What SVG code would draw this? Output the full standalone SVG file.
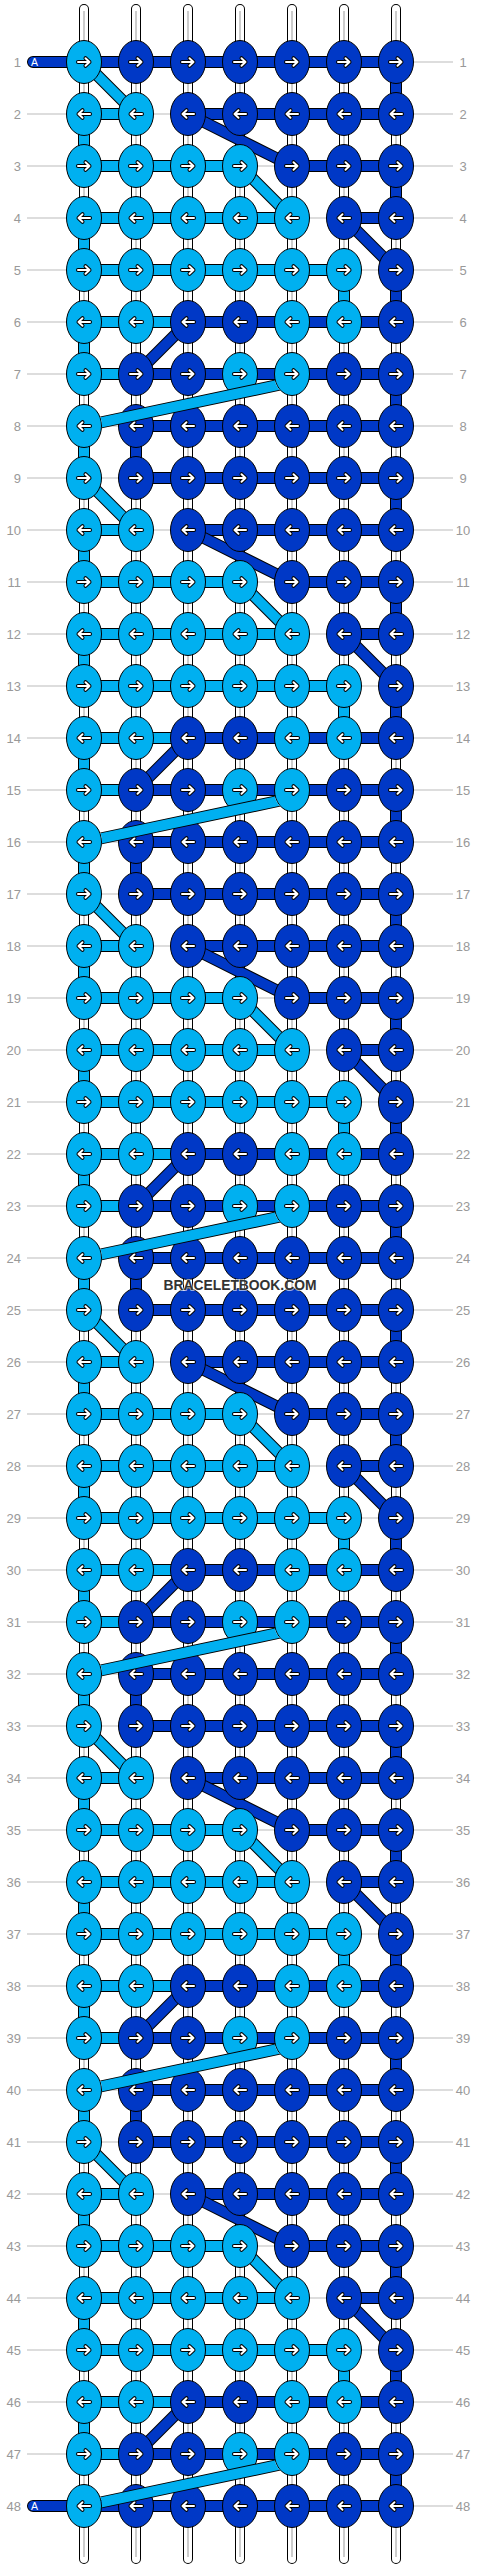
<svg xmlns="http://www.w3.org/2000/svg" xmlns:xlink="http://www.w3.org/1999/xlink" width="480" height="2568" viewBox="0 0 480 2568">
<style>
.rl{fill:none;stroke:#bbb;stroke-width:1}
.lb{font-family:"Liberation Sans",Arial,sans-serif;font-size:13px;fill:#999}
.le{text-anchor:end}
.ri{text-anchor:middle}
.tb{fill:none;stroke:#000;stroke-width:10;stroke-linecap:round}
.tw{fill:none;stroke:#fff;stroke-width:8;stroke-linecap:round}
.tg{fill:none;stroke:#ccc;stroke-width:2}
.o{fill:none;stroke:#000;stroke-width:12}
.fl{fill:none;stroke:#00b0f0;stroke-width:10}
.fd{fill:none;stroke:#0038c6;stroke-width:10}
.rc{stroke-linecap:round}
.kl{fill:#00b0f0;stroke:#000;stroke-width:1}
.kd{fill:#0038c6;stroke:#000;stroke-width:1}
.ab{fill:none;stroke:#000;stroke-width:4;stroke-linecap:round;stroke-linejoin:round}
.aw{fill:none;stroke:#fff;stroke-width:2;stroke-linecap:round;stroke-linejoin:round}
.at{font-family:"Liberation Sans",Arial,sans-serif;font-size:10.5px;fill:#fff}
.wm{font-family:"Liberation Sans",Arial,sans-serif;font-size:15px;font-weight:bold;fill:#333;text-anchor:middle;stroke:#fff;stroke-width:2;stroke-opacity:0.6;paint-order:stroke}
</style>
<defs>
<path id="a" d="M-6 0H5.5M1.5-3.8L5.5 0L1.5 3.8"/>
<g id="ar"><use href="#a" class="ab"/><use href="#a" class="aw"/></g>
<g id="al"><use href="#ar" transform="scale(-1,1)"/></g>
<ellipse id="eL" class="kl" rx="17.5" ry="21.5"/>
<ellipse id="eD" class="kd" rx="17.5" ry="21.5"/>
<g id="LR"><use href="#eL"/><use href="#ar"/></g>
<g id="LL"><use href="#eL"/><use href="#al"/></g>
<g id="DR"><use href="#eD"/><use href="#ar"/></g>
<g id="DL"><use href="#eD"/><use href="#al"/></g>
<g id="cyc">
<path class="o" d="M84 52H136M84 104H240M84 156H292M84 208H344M84 260H188M84 312H136M84 52V104M84 156V208M344 208V260M84 260V312M136 0H396M188 52H396M292 104H396M344 156H396M188 260H396M136 312H396M136 364H396M396 0V52M396 104V156M396 208V260M396 312V364"/>
<path class="fl" d="M84 52H136M84 104H240M84 156H292M84 208H344M84 260H188M84 312H136M84 52V104M84 156V208M344 208V260M84 260V312"/>
<path class="fd" d="M136 0H396M188 52H396M292 104H396M344 156H396M188 260H396M136 312H396M136 364H396M396 0V52M396 104V156M396 208V260M396 312V364"/>
<path class="o" d="M84 0L136 52M240 104L292 156M188 52L292 104M344 156L396 208M188 260L136 312"/>
<path class="fl" d="M84 0L136 52M240 104L292 156"/>
<path class="fd" d="M188 52L292 104M344 156L396 208M188 260L136 312"/>
</g>
<mask id="m" maskUnits="userSpaceOnUse" x="0" y="0" width="480" height="2568">
<rect width="480" height="2568" fill="#fff"/>
<g fill="#000">
<ellipse cx="292" cy="374" rx="18" ry="22"/><ellipse cx="84" cy="426" rx="18" ry="22"/>
<ellipse cx="292" cy="790" rx="18" ry="22"/><ellipse cx="84" cy="842" rx="18" ry="22"/>
<ellipse cx="292" cy="1206" rx="18" ry="22"/><ellipse cx="84" cy="1258" rx="18" ry="22"/>
<ellipse cx="292" cy="1622" rx="18" ry="22"/><ellipse cx="84" cy="1674" rx="18" ry="22"/>
<ellipse cx="292" cy="2038" rx="18" ry="22"/><ellipse cx="84" cy="2090" rx="18" ry="22"/>
<ellipse cx="292" cy="2454" rx="18" ry="22"/><ellipse cx="84" cy="2506" rx="18" ry="22"/>
</g>
</mask>
</defs>
<rect width="480" height="2568" fill="#fff"/>
<g id="row-lines">
<path class="rl" d="M27 62H453M27 114H453M27 166H453M27 218H453M27 270H453M27 322H453M27 374H453M27 426H453M27 478H453M27 530H453M27 582H453M27 634H453M27 686H453M27 738H453M27 790H453M27 842H453M27 894H453M27 946H453M27 998H453M27 1050H453M27 1102H453M27 1154H453M27 1206H453M27 1258H453M27 1310H453M27 1362H453M27 1414H453M27 1466H453M27 1518H453M27 1570H453M27 1622H453M27 1674H453M27 1726H453M27 1778H453M27 1830H453M27 1882H453M27 1934H453M27 1986H453M27 2038H453M27 2090H453M27 2142H453M27 2194H453M27 2246H453M27 2298H453M27 2350H453M27 2402H453M27 2454H453M27 2506H453"/>
</g>
<g id="row-labels">
<text class="lb le"><tspan x="21" y="66.5">1</tspan><tspan x="21" y="118.5">2</tspan><tspan x="21" y="170.5">3</tspan><tspan x="21" y="222.5">4</tspan><tspan x="21" y="274.5">5</tspan><tspan x="21" y="326.5">6</tspan><tspan x="21" y="378.5">7</tspan><tspan x="21" y="430.5">8</tspan><tspan x="21" y="482.5">9</tspan><tspan x="21" y="534.5">10</tspan><tspan x="21" y="586.5">11</tspan><tspan x="21" y="638.5">12</tspan><tspan x="21" y="690.5">13</tspan><tspan x="21" y="742.5">14</tspan><tspan x="21" y="794.5">15</tspan><tspan x="21" y="846.5">16</tspan><tspan x="21" y="898.5">17</tspan><tspan x="21" y="950.5">18</tspan><tspan x="21" y="1002.5">19</tspan><tspan x="21" y="1054.5">20</tspan><tspan x="21" y="1106.5">21</tspan><tspan x="21" y="1158.5">22</tspan><tspan x="21" y="1210.5">23</tspan><tspan x="21" y="1262.5">24</tspan><tspan x="21" y="1314.5">25</tspan><tspan x="21" y="1366.5">26</tspan><tspan x="21" y="1418.5">27</tspan><tspan x="21" y="1470.5">28</tspan><tspan x="21" y="1522.5">29</tspan><tspan x="21" y="1574.5">30</tspan><tspan x="21" y="1626.5">31</tspan><tspan x="21" y="1678.5">32</tspan><tspan x="21" y="1730.5">33</tspan><tspan x="21" y="1782.5">34</tspan><tspan x="21" y="1834.5">35</tspan><tspan x="21" y="1886.5">36</tspan><tspan x="21" y="1938.5">37</tspan><tspan x="21" y="1990.5">38</tspan><tspan x="21" y="2042.5">39</tspan><tspan x="21" y="2094.5">40</tspan><tspan x="21" y="2146.5">41</tspan><tspan x="21" y="2198.5">42</tspan><tspan x="21" y="2250.5">43</tspan><tspan x="21" y="2302.5">44</tspan><tspan x="21" y="2354.5">45</tspan><tspan x="21" y="2406.5">46</tspan><tspan x="21" y="2458.5">47</tspan><tspan x="21" y="2510.5">48</tspan></text>
<text class="lb ri"><tspan x="463" y="66.5">1</tspan><tspan x="463" y="118.5">2</tspan><tspan x="463" y="170.5">3</tspan><tspan x="463" y="222.5">4</tspan><tspan x="463" y="274.5">5</tspan><tspan x="463" y="326.5">6</tspan><tspan x="463" y="378.5">7</tspan><tspan x="463" y="430.5">8</tspan><tspan x="463" y="482.5">9</tspan><tspan x="463" y="534.5">10</tspan><tspan x="463" y="586.5">11</tspan><tspan x="463" y="638.5">12</tspan><tspan x="463" y="690.5">13</tspan><tspan x="463" y="742.5">14</tspan><tspan x="463" y="794.5">15</tspan><tspan x="463" y="846.5">16</tspan><tspan x="463" y="898.5">17</tspan><tspan x="463" y="950.5">18</tspan><tspan x="463" y="1002.5">19</tspan><tspan x="463" y="1054.5">20</tspan><tspan x="463" y="1106.5">21</tspan><tspan x="463" y="1158.5">22</tspan><tspan x="463" y="1210.5">23</tspan><tspan x="463" y="1262.5">24</tspan><tspan x="463" y="1314.5">25</tspan><tspan x="463" y="1366.5">26</tspan><tspan x="463" y="1418.5">27</tspan><tspan x="463" y="1470.5">28</tspan><tspan x="463" y="1522.5">29</tspan><tspan x="463" y="1574.5">30</tspan><tspan x="463" y="1626.5">31</tspan><tspan x="463" y="1678.5">32</tspan><tspan x="463" y="1730.5">33</tspan><tspan x="463" y="1782.5">34</tspan><tspan x="463" y="1834.5">35</tspan><tspan x="463" y="1886.5">36</tspan><tspan x="463" y="1938.5">37</tspan><tspan x="463" y="1990.5">38</tspan><tspan x="463" y="2042.5">39</tspan><tspan x="463" y="2094.5">40</tspan><tspan x="463" y="2146.5">41</tspan><tspan x="463" y="2198.5">42</tspan><tspan x="463" y="2250.5">43</tspan><tspan x="463" y="2302.5">44</tspan><tspan x="463" y="2354.5">45</tspan><tspan x="463" y="2406.5">46</tspan><tspan x="463" y="2458.5">47</tspan><tspan x="463" y="2510.5">48</tspan></text>
</g>
<g id="strings">
<path class="tb" d="M84 9V2559M136 9V2559M188 9V2559M240 9V2559M292 9V2559M344 9V2559M396 9V2559"/>
<path class="tw" d="M84 9V2559M136 9V2559M188 9V2559M240 9V2559M292 9V2559M344 9V2559M396 9V2559"/>
<path class="tg" d="M84 11V2557M136 11V2557M188 11V2557M240 11V2557M292 11V2557M344 11V2557M396 11V2557"/>
</g>
<g id="connectors">
<use href="#cyc" y="62"/>
<use href="#cyc" y="478"/>
<use href="#cyc" y="894"/>
<use href="#cyc" y="1310"/>
<use href="#cyc" y="1726"/>
<use href="#cyc" y="2142"/>
<path class="o" d="M84 426V478M84 842V894M84 1258V1310M84 1674V1726M84 2090V2142M136 426V478M136 842V894M136 1258V1310M136 1674V1726M136 2090V2142"/>
<path class="fl" d="M84 426V478M84 842V894M84 1258V1310M84 1674V1726M84 2090V2142"/>
<path class="fd" d="M136 426V478M136 842V894M136 1258V1310M136 1674V1726M136 2090V2142"/>
<path class="o rc" d="M33 62H136M33 2506H136"/>
<path class="fd rc" d="M33 62H136M33 2506H136"/>
</g>
<g id="start-labels">
<text class="at" x="31" y="66">A</text>
<text class="at" x="31" y="2510">A</text>
</g>
<g id="knots">
<g transform="translate(0,62)"><g id="k1-1"><use href="#LR" x="84"/></g><g id="k1-2"><use href="#DR" x="136"/></g><g id="k1-3"><use href="#DR" x="188"/></g><g id="k1-4"><use href="#DR" x="240"/></g><g id="k1-5"><use href="#DR" x="292"/></g><g id="k1-6"><use href="#DR" x="344"/></g><g id="k1-7"><use href="#DR" x="396"/></g></g>
<g transform="translate(0,114)"><g id="k2-1"><use href="#LL" x="84"/></g><g id="k2-2"><use href="#LL" x="136"/></g><g id="k2-3"><use href="#DL" x="188"/></g><g id="k2-4"><use href="#DL" x="240"/></g><g id="k2-5"><use href="#DL" x="292"/></g><g id="k2-6"><use href="#DL" x="344"/></g><g id="k2-7"><use href="#DL" x="396"/></g></g>
<g transform="translate(0,166)"><g id="k3-1"><use href="#LR" x="84"/></g><g id="k3-2"><use href="#LR" x="136"/></g><g id="k3-3"><use href="#LR" x="188"/></g><g id="k3-4"><use href="#LR" x="240"/></g><g id="k3-5"><use href="#DR" x="292"/></g><g id="k3-6"><use href="#DR" x="344"/></g><g id="k3-7"><use href="#DR" x="396"/></g></g>
<g transform="translate(0,218)"><g id="k4-1"><use href="#LL" x="84"/></g><g id="k4-2"><use href="#LL" x="136"/></g><g id="k4-3"><use href="#LL" x="188"/></g><g id="k4-4"><use href="#LL" x="240"/></g><g id="k4-5"><use href="#LL" x="292"/></g><g id="k4-6"><use href="#DL" x="344"/></g><g id="k4-7"><use href="#DL" x="396"/></g></g>
<g transform="translate(0,270)"><g id="k5-1"><use href="#LR" x="84"/></g><g id="k5-2"><use href="#LR" x="136"/></g><g id="k5-3"><use href="#LR" x="188"/></g><g id="k5-4"><use href="#LR" x="240"/></g><g id="k5-5"><use href="#LR" x="292"/></g><g id="k5-6"><use href="#LR" x="344"/></g><g id="k5-7"><use href="#DR" x="396"/></g></g>
<g transform="translate(0,322)"><g id="k6-1"><use href="#LL" x="84"/></g><g id="k6-2"><use href="#LL" x="136"/></g><g id="k6-3"><use href="#DL" x="188"/></g><g id="k6-4"><use href="#DL" x="240"/></g><g id="k6-5"><use href="#LL" x="292"/></g><g id="k6-6"><use href="#LL" x="344"/></g><g id="k6-7"><use href="#DL" x="396"/></g></g>
<g transform="translate(0,374)"><g id="k7-1"><use href="#LR" x="84"/></g><g id="k7-2"><use href="#DR" x="136"/></g><g id="k7-3"><use href="#DR" x="188"/></g><g id="k7-4"><use href="#LR" x="240"/></g><g id="k7-5"><use href="#LR" x="292"/></g><g id="k7-6"><use href="#DR" x="344"/></g><g id="k7-7"><use href="#DR" x="396"/></g></g>
<g transform="translate(0,426)"><g id="k8-1"><use href="#LL" x="84"/></g><g id="k8-2"><use href="#DL" x="136"/></g><g id="k8-3"><use href="#DL" x="188"/></g><g id="k8-4"><use href="#DL" x="240"/></g><g id="k8-5"><use href="#DL" x="292"/></g><g id="k8-6"><use href="#DL" x="344"/></g><g id="k8-7"><use href="#DL" x="396"/></g></g>
<g transform="translate(0,478)"><g id="k9-1"><use href="#LR" x="84"/></g><g id="k9-2"><use href="#DR" x="136"/></g><g id="k9-3"><use href="#DR" x="188"/></g><g id="k9-4"><use href="#DR" x="240"/></g><g id="k9-5"><use href="#DR" x="292"/></g><g id="k9-6"><use href="#DR" x="344"/></g><g id="k9-7"><use href="#DR" x="396"/></g></g>
<g transform="translate(0,530)"><g id="k10-1"><use href="#LL" x="84"/></g><g id="k10-2"><use href="#LL" x="136"/></g><g id="k10-3"><use href="#DL" x="188"/></g><g id="k10-4"><use href="#DL" x="240"/></g><g id="k10-5"><use href="#DL" x="292"/></g><g id="k10-6"><use href="#DL" x="344"/></g><g id="k10-7"><use href="#DL" x="396"/></g></g>
<g transform="translate(0,582)"><g id="k11-1"><use href="#LR" x="84"/></g><g id="k11-2"><use href="#LR" x="136"/></g><g id="k11-3"><use href="#LR" x="188"/></g><g id="k11-4"><use href="#LR" x="240"/></g><g id="k11-5"><use href="#DR" x="292"/></g><g id="k11-6"><use href="#DR" x="344"/></g><g id="k11-7"><use href="#DR" x="396"/></g></g>
<g transform="translate(0,634)"><g id="k12-1"><use href="#LL" x="84"/></g><g id="k12-2"><use href="#LL" x="136"/></g><g id="k12-3"><use href="#LL" x="188"/></g><g id="k12-4"><use href="#LL" x="240"/></g><g id="k12-5"><use href="#LL" x="292"/></g><g id="k12-6"><use href="#DL" x="344"/></g><g id="k12-7"><use href="#DL" x="396"/></g></g>
<g transform="translate(0,686)"><g id="k13-1"><use href="#LR" x="84"/></g><g id="k13-2"><use href="#LR" x="136"/></g><g id="k13-3"><use href="#LR" x="188"/></g><g id="k13-4"><use href="#LR" x="240"/></g><g id="k13-5"><use href="#LR" x="292"/></g><g id="k13-6"><use href="#LR" x="344"/></g><g id="k13-7"><use href="#DR" x="396"/></g></g>
<g transform="translate(0,738)"><g id="k14-1"><use href="#LL" x="84"/></g><g id="k14-2"><use href="#LL" x="136"/></g><g id="k14-3"><use href="#DL" x="188"/></g><g id="k14-4"><use href="#DL" x="240"/></g><g id="k14-5"><use href="#LL" x="292"/></g><g id="k14-6"><use href="#LL" x="344"/></g><g id="k14-7"><use href="#DL" x="396"/></g></g>
<g transform="translate(0,790)"><g id="k15-1"><use href="#LR" x="84"/></g><g id="k15-2"><use href="#DR" x="136"/></g><g id="k15-3"><use href="#DR" x="188"/></g><g id="k15-4"><use href="#LR" x="240"/></g><g id="k15-5"><use href="#LR" x="292"/></g><g id="k15-6"><use href="#DR" x="344"/></g><g id="k15-7"><use href="#DR" x="396"/></g></g>
<g transform="translate(0,842)"><g id="k16-1"><use href="#LL" x="84"/></g><g id="k16-2"><use href="#DL" x="136"/></g><g id="k16-3"><use href="#DL" x="188"/></g><g id="k16-4"><use href="#DL" x="240"/></g><g id="k16-5"><use href="#DL" x="292"/></g><g id="k16-6"><use href="#DL" x="344"/></g><g id="k16-7"><use href="#DL" x="396"/></g></g>
<g transform="translate(0,894)"><g id="k17-1"><use href="#LR" x="84"/></g><g id="k17-2"><use href="#DR" x="136"/></g><g id="k17-3"><use href="#DR" x="188"/></g><g id="k17-4"><use href="#DR" x="240"/></g><g id="k17-5"><use href="#DR" x="292"/></g><g id="k17-6"><use href="#DR" x="344"/></g><g id="k17-7"><use href="#DR" x="396"/></g></g>
<g transform="translate(0,946)"><g id="k18-1"><use href="#LL" x="84"/></g><g id="k18-2"><use href="#LL" x="136"/></g><g id="k18-3"><use href="#DL" x="188"/></g><g id="k18-4"><use href="#DL" x="240"/></g><g id="k18-5"><use href="#DL" x="292"/></g><g id="k18-6"><use href="#DL" x="344"/></g><g id="k18-7"><use href="#DL" x="396"/></g></g>
<g transform="translate(0,998)"><g id="k19-1"><use href="#LR" x="84"/></g><g id="k19-2"><use href="#LR" x="136"/></g><g id="k19-3"><use href="#LR" x="188"/></g><g id="k19-4"><use href="#LR" x="240"/></g><g id="k19-5"><use href="#DR" x="292"/></g><g id="k19-6"><use href="#DR" x="344"/></g><g id="k19-7"><use href="#DR" x="396"/></g></g>
<g transform="translate(0,1050)"><g id="k20-1"><use href="#LL" x="84"/></g><g id="k20-2"><use href="#LL" x="136"/></g><g id="k20-3"><use href="#LL" x="188"/></g><g id="k20-4"><use href="#LL" x="240"/></g><g id="k20-5"><use href="#LL" x="292"/></g><g id="k20-6"><use href="#DL" x="344"/></g><g id="k20-7"><use href="#DL" x="396"/></g></g>
<g transform="translate(0,1102)"><g id="k21-1"><use href="#LR" x="84"/></g><g id="k21-2"><use href="#LR" x="136"/></g><g id="k21-3"><use href="#LR" x="188"/></g><g id="k21-4"><use href="#LR" x="240"/></g><g id="k21-5"><use href="#LR" x="292"/></g><g id="k21-6"><use href="#LR" x="344"/></g><g id="k21-7"><use href="#DR" x="396"/></g></g>
<g transform="translate(0,1154)"><g id="k22-1"><use href="#LL" x="84"/></g><g id="k22-2"><use href="#LL" x="136"/></g><g id="k22-3"><use href="#DL" x="188"/></g><g id="k22-4"><use href="#DL" x="240"/></g><g id="k22-5"><use href="#LL" x="292"/></g><g id="k22-6"><use href="#LL" x="344"/></g><g id="k22-7"><use href="#DL" x="396"/></g></g>
<g transform="translate(0,1206)"><g id="k23-1"><use href="#LR" x="84"/></g><g id="k23-2"><use href="#DR" x="136"/></g><g id="k23-3"><use href="#DR" x="188"/></g><g id="k23-4"><use href="#LR" x="240"/></g><g id="k23-5"><use href="#LR" x="292"/></g><g id="k23-6"><use href="#DR" x="344"/></g><g id="k23-7"><use href="#DR" x="396"/></g></g>
<g transform="translate(0,1258)"><g id="k24-1"><use href="#LL" x="84"/></g><g id="k24-2"><use href="#DL" x="136"/></g><g id="k24-3"><use href="#DL" x="188"/></g><g id="k24-4"><use href="#DL" x="240"/></g><g id="k24-5"><use href="#DL" x="292"/></g><g id="k24-6"><use href="#DL" x="344"/></g><g id="k24-7"><use href="#DL" x="396"/></g></g>
<g transform="translate(0,1310)"><g id="k25-1"><use href="#LR" x="84"/></g><g id="k25-2"><use href="#DR" x="136"/></g><g id="k25-3"><use href="#DR" x="188"/></g><g id="k25-4"><use href="#DR" x="240"/></g><g id="k25-5"><use href="#DR" x="292"/></g><g id="k25-6"><use href="#DR" x="344"/></g><g id="k25-7"><use href="#DR" x="396"/></g></g>
<g transform="translate(0,1362)"><g id="k26-1"><use href="#LL" x="84"/></g><g id="k26-2"><use href="#LL" x="136"/></g><g id="k26-3"><use href="#DL" x="188"/></g><g id="k26-4"><use href="#DL" x="240"/></g><g id="k26-5"><use href="#DL" x="292"/></g><g id="k26-6"><use href="#DL" x="344"/></g><g id="k26-7"><use href="#DL" x="396"/></g></g>
<g transform="translate(0,1414)"><g id="k27-1"><use href="#LR" x="84"/></g><g id="k27-2"><use href="#LR" x="136"/></g><g id="k27-3"><use href="#LR" x="188"/></g><g id="k27-4"><use href="#LR" x="240"/></g><g id="k27-5"><use href="#DR" x="292"/></g><g id="k27-6"><use href="#DR" x="344"/></g><g id="k27-7"><use href="#DR" x="396"/></g></g>
<g transform="translate(0,1466)"><g id="k28-1"><use href="#LL" x="84"/></g><g id="k28-2"><use href="#LL" x="136"/></g><g id="k28-3"><use href="#LL" x="188"/></g><g id="k28-4"><use href="#LL" x="240"/></g><g id="k28-5"><use href="#LL" x="292"/></g><g id="k28-6"><use href="#DL" x="344"/></g><g id="k28-7"><use href="#DL" x="396"/></g></g>
<g transform="translate(0,1518)"><g id="k29-1"><use href="#LR" x="84"/></g><g id="k29-2"><use href="#LR" x="136"/></g><g id="k29-3"><use href="#LR" x="188"/></g><g id="k29-4"><use href="#LR" x="240"/></g><g id="k29-5"><use href="#LR" x="292"/></g><g id="k29-6"><use href="#LR" x="344"/></g><g id="k29-7"><use href="#DR" x="396"/></g></g>
<g transform="translate(0,1570)"><g id="k30-1"><use href="#LL" x="84"/></g><g id="k30-2"><use href="#LL" x="136"/></g><g id="k30-3"><use href="#DL" x="188"/></g><g id="k30-4"><use href="#DL" x="240"/></g><g id="k30-5"><use href="#LL" x="292"/></g><g id="k30-6"><use href="#LL" x="344"/></g><g id="k30-7"><use href="#DL" x="396"/></g></g>
<g transform="translate(0,1622)"><g id="k31-1"><use href="#LR" x="84"/></g><g id="k31-2"><use href="#DR" x="136"/></g><g id="k31-3"><use href="#DR" x="188"/></g><g id="k31-4"><use href="#LR" x="240"/></g><g id="k31-5"><use href="#LR" x="292"/></g><g id="k31-6"><use href="#DR" x="344"/></g><g id="k31-7"><use href="#DR" x="396"/></g></g>
<g transform="translate(0,1674)"><g id="k32-1"><use href="#LL" x="84"/></g><g id="k32-2"><use href="#DL" x="136"/></g><g id="k32-3"><use href="#DL" x="188"/></g><g id="k32-4"><use href="#DL" x="240"/></g><g id="k32-5"><use href="#DL" x="292"/></g><g id="k32-6"><use href="#DL" x="344"/></g><g id="k32-7"><use href="#DL" x="396"/></g></g>
<g transform="translate(0,1726)"><g id="k33-1"><use href="#LR" x="84"/></g><g id="k33-2"><use href="#DR" x="136"/></g><g id="k33-3"><use href="#DR" x="188"/></g><g id="k33-4"><use href="#DR" x="240"/></g><g id="k33-5"><use href="#DR" x="292"/></g><g id="k33-6"><use href="#DR" x="344"/></g><g id="k33-7"><use href="#DR" x="396"/></g></g>
<g transform="translate(0,1778)"><g id="k34-1"><use href="#LL" x="84"/></g><g id="k34-2"><use href="#LL" x="136"/></g><g id="k34-3"><use href="#DL" x="188"/></g><g id="k34-4"><use href="#DL" x="240"/></g><g id="k34-5"><use href="#DL" x="292"/></g><g id="k34-6"><use href="#DL" x="344"/></g><g id="k34-7"><use href="#DL" x="396"/></g></g>
<g transform="translate(0,1830)"><g id="k35-1"><use href="#LR" x="84"/></g><g id="k35-2"><use href="#LR" x="136"/></g><g id="k35-3"><use href="#LR" x="188"/></g><g id="k35-4"><use href="#LR" x="240"/></g><g id="k35-5"><use href="#DR" x="292"/></g><g id="k35-6"><use href="#DR" x="344"/></g><g id="k35-7"><use href="#DR" x="396"/></g></g>
<g transform="translate(0,1882)"><g id="k36-1"><use href="#LL" x="84"/></g><g id="k36-2"><use href="#LL" x="136"/></g><g id="k36-3"><use href="#LL" x="188"/></g><g id="k36-4"><use href="#LL" x="240"/></g><g id="k36-5"><use href="#LL" x="292"/></g><g id="k36-6"><use href="#DL" x="344"/></g><g id="k36-7"><use href="#DL" x="396"/></g></g>
<g transform="translate(0,1934)"><g id="k37-1"><use href="#LR" x="84"/></g><g id="k37-2"><use href="#LR" x="136"/></g><g id="k37-3"><use href="#LR" x="188"/></g><g id="k37-4"><use href="#LR" x="240"/></g><g id="k37-5"><use href="#LR" x="292"/></g><g id="k37-6"><use href="#LR" x="344"/></g><g id="k37-7"><use href="#DR" x="396"/></g></g>
<g transform="translate(0,1986)"><g id="k38-1"><use href="#LL" x="84"/></g><g id="k38-2"><use href="#LL" x="136"/></g><g id="k38-3"><use href="#DL" x="188"/></g><g id="k38-4"><use href="#DL" x="240"/></g><g id="k38-5"><use href="#LL" x="292"/></g><g id="k38-6"><use href="#LL" x="344"/></g><g id="k38-7"><use href="#DL" x="396"/></g></g>
<g transform="translate(0,2038)"><g id="k39-1"><use href="#LR" x="84"/></g><g id="k39-2"><use href="#DR" x="136"/></g><g id="k39-3"><use href="#DR" x="188"/></g><g id="k39-4"><use href="#LR" x="240"/></g><g id="k39-5"><use href="#LR" x="292"/></g><g id="k39-6"><use href="#DR" x="344"/></g><g id="k39-7"><use href="#DR" x="396"/></g></g>
<g transform="translate(0,2090)"><g id="k40-1"><use href="#LL" x="84"/></g><g id="k40-2"><use href="#DL" x="136"/></g><g id="k40-3"><use href="#DL" x="188"/></g><g id="k40-4"><use href="#DL" x="240"/></g><g id="k40-5"><use href="#DL" x="292"/></g><g id="k40-6"><use href="#DL" x="344"/></g><g id="k40-7"><use href="#DL" x="396"/></g></g>
<g transform="translate(0,2142)"><g id="k41-1"><use href="#LR" x="84"/></g><g id="k41-2"><use href="#DR" x="136"/></g><g id="k41-3"><use href="#DR" x="188"/></g><g id="k41-4"><use href="#DR" x="240"/></g><g id="k41-5"><use href="#DR" x="292"/></g><g id="k41-6"><use href="#DR" x="344"/></g><g id="k41-7"><use href="#DR" x="396"/></g></g>
<g transform="translate(0,2194)"><g id="k42-1"><use href="#LL" x="84"/></g><g id="k42-2"><use href="#LL" x="136"/></g><g id="k42-3"><use href="#DL" x="188"/></g><g id="k42-4"><use href="#DL" x="240"/></g><g id="k42-5"><use href="#DL" x="292"/></g><g id="k42-6"><use href="#DL" x="344"/></g><g id="k42-7"><use href="#DL" x="396"/></g></g>
<g transform="translate(0,2246)"><g id="k43-1"><use href="#LR" x="84"/></g><g id="k43-2"><use href="#LR" x="136"/></g><g id="k43-3"><use href="#LR" x="188"/></g><g id="k43-4"><use href="#LR" x="240"/></g><g id="k43-5"><use href="#DR" x="292"/></g><g id="k43-6"><use href="#DR" x="344"/></g><g id="k43-7"><use href="#DR" x="396"/></g></g>
<g transform="translate(0,2298)"><g id="k44-1"><use href="#LL" x="84"/></g><g id="k44-2"><use href="#LL" x="136"/></g><g id="k44-3"><use href="#LL" x="188"/></g><g id="k44-4"><use href="#LL" x="240"/></g><g id="k44-5"><use href="#LL" x="292"/></g><g id="k44-6"><use href="#DL" x="344"/></g><g id="k44-7"><use href="#DL" x="396"/></g></g>
<g transform="translate(0,2350)"><g id="k45-1"><use href="#LR" x="84"/></g><g id="k45-2"><use href="#LR" x="136"/></g><g id="k45-3"><use href="#LR" x="188"/></g><g id="k45-4"><use href="#LR" x="240"/></g><g id="k45-5"><use href="#LR" x="292"/></g><g id="k45-6"><use href="#LR" x="344"/></g><g id="k45-7"><use href="#DR" x="396"/></g></g>
<g transform="translate(0,2402)"><g id="k46-1"><use href="#LL" x="84"/></g><g id="k46-2"><use href="#LL" x="136"/></g><g id="k46-3"><use href="#DL" x="188"/></g><g id="k46-4"><use href="#DL" x="240"/></g><g id="k46-5"><use href="#LL" x="292"/></g><g id="k46-6"><use href="#LL" x="344"/></g><g id="k46-7"><use href="#DL" x="396"/></g></g>
<g transform="translate(0,2454)"><g id="k47-1"><use href="#LR" x="84"/></g><g id="k47-2"><use href="#DR" x="136"/></g><g id="k47-3"><use href="#DR" x="188"/></g><g id="k47-4"><use href="#LR" x="240"/></g><g id="k47-5"><use href="#LR" x="292"/></g><g id="k47-6"><use href="#DR" x="344"/></g><g id="k47-7"><use href="#DR" x="396"/></g></g>
<g transform="translate(0,2506)"><g id="k48-1"><use href="#LL" x="84"/></g><g id="k48-2"><use href="#DL" x="136"/></g><g id="k48-3"><use href="#DL" x="188"/></g><g id="k48-4"><use href="#DL" x="240"/></g><g id="k48-5"><use href="#DL" x="292"/></g><g id="k48-6"><use href="#DL" x="344"/></g><g id="k48-7"><use href="#DL" x="396"/></g></g>
</g>
<g id="connectors-over" mask="url(#m)">
<path class="o" d="M292 382L84 426M292 798L84 842M292 1214L84 1258M292 1630L84 1674M292 2046L84 2090M292 2462L84 2506"/>
<path class="fl" d="M292 382L84 426M292 798L84 842M292 1214L84 1258M292 1630L84 1674M292 2046L84 2090M292 2462L84 2506"/>
</g>
<text class="wm" x="240" y="1290" textLength="153" lengthAdjust="spacingAndGlyphs">BRACELETBOOK.COM</text>
</svg>
